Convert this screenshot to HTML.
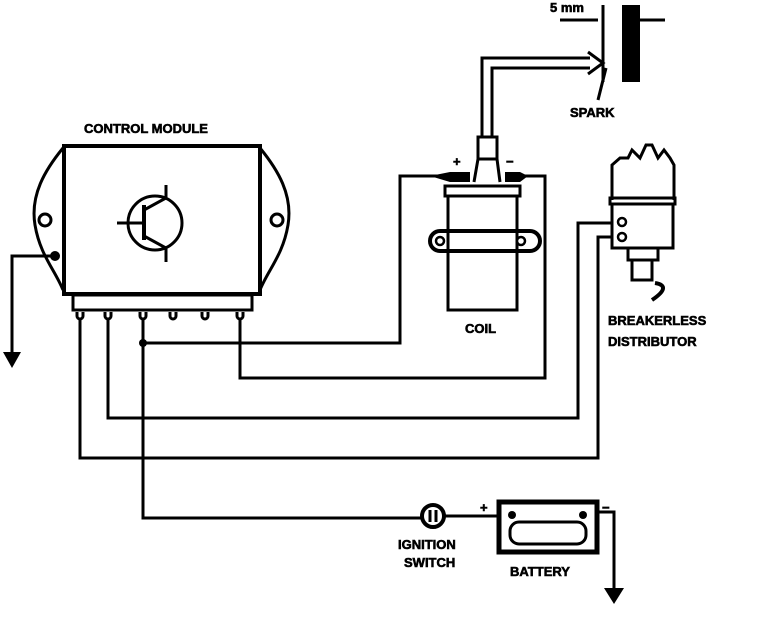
<!DOCTYPE html>
<html><head><style>
body{margin:0;background:#fff}
svg{display:block}
text{font-family:"Liberation Sans",sans-serif;font-weight:bold;font-size:13px;fill:#000;stroke:#000;stroke-width:0.6}
</style></head><body>
<svg width="768" height="630" viewBox="0 0 768 630" xmlns="http://www.w3.org/2000/svg">
<g fill="none" stroke="#000" stroke-width="3">
<path d="M63,148 C45,170 30,195 35,225 C40,255 55,270 63,290" />
<path d="M260,148 C278,170 293,195 288,225 C283,255 268,270 260,290" />
<rect x="64" y="146" width="196" height="148" stroke-width="4"/>
<rect x="73" y="295" width="179" height="15"/>
<circle cx="45" cy="220" r="6"/>
<circle cx="277" cy="220" r="6"/>
<circle cx="155" cy="223" r="27"/>
<line x1="117" y1="223" x2="144" y2="223"/>
<line x1="144" y1="205" x2="144" y2="240" stroke-width="4"/>
<path d="M144,210 L166,198 L166,185 M144,236 L166,248 L166,262"/>
<g stroke-width="3">
<path d="M77,312 v4 a3,3 0 0 0 6,0 v-4"/><path d="M105,312 v4 a3,3 0 0 0 6,0 v-4"/><path d="M140,312 v4 a3,3 0 0 0 6,0 v-4"/>
<path d="M170,312 v4 a3,3 0 0 0 6,0 v-4"/><path d="M202,312 v4 a3,3 0 0 0 6,0 v-4"/><path d="M237,312 v4 a3,3 0 0 0 6,0 v-4"/>
</g>
<polyline points="55,256 12,256 12,352"/>
<polyline points="240,320 240,378 545,378 545,176 520,176"/>
<polyline points="108,320 108,418 578,418 578,223 612,223"/>
<polyline points="80,320 80,458 598,458 598,237 612,237"/>
<polyline points="143,320 143,518 421,518"/>
<polyline points="143,343 400,343 400,176 440,176"/>
<line x1="445" y1="516" x2="497" y2="516"/>
<polyline points="598,512 614,512 614,588"/>
<rect x="448" y="196" width="69" height="114"/>
<rect x="445" y="186" width="75" height="10"/>
<path d="M440,231 h90 a10,10 0 0 1 0,20 h-90 a10,10 0 0 1 0,-20z" stroke-width="4"/>
<rect x="478" y="137" width="19" height="22"/>
<path d="M478,159 L474,182 M497,159 L500,182"/>
<path d="M440,176 h30 M505,176 h18"/>
<polyline points="482,137 482,58 590,58"/>
<polyline points="492,137 492,68 590,68"/>
<path d="M588,52 L603,63 L588,74" />
<line x1="603" y1="5" x2="603" y2="82"/>
<line x1="560" y1="20" x2="598" y2="20"/>
<line x1="640" y1="20" x2="665" y2="20"/>
<path d="M606,68 L598,100"/>
<path d="M612,200 L612,165 L620,158 L628,158 L632,150 L640,158 L646,145 L652,145 L658,158 L664,150 L670,158 L674,165 L674,200"/>
<rect x="610" y="198" width="65" height="6"/>
<path d="M612,204 L612,248 L673,248 L673,204"/>
<rect x="628" y="248" width="30" height="12"/>
<path d="M632,260 v20 h20 v-20"/>
<path d="M655,283 C668,285 664,292 652,300" stroke-width="4"/>
<circle cx="433" cy="516" r="11" stroke-width="4"/>
<line x1="430" y1="510" x2="430" y2="522"/>
<line x1="436" y1="510" x2="436" y2="522"/>
<rect x="499" y="502" width="98" height="50" stroke-width="5"/>
<rect x="510" y="522" width="76" height="22" rx="9"/>
</g>
<rect x="622" y="5" width="18" height="77" fill="#000"/>
<polygon points="3,352 21,352 12,368" fill="#000"/>
<polygon points="604,588 624,588 614,604" fill="#000"/>
<circle cx="143" cy="343" r="4"/>
<circle cx="55" cy="256" r="5"/>
<circle cx="512" cy="515" r="4"/>
<circle cx="583" cy="515" r="4"/>
<circle cx="622" cy="222" r="4" fill="#fff" stroke="#000" stroke-width="2.5"/>
<circle cx="622" cy="237" r="4" fill="#fff" stroke="#000" stroke-width="2.5"/>
<circle cx="440" cy="241" r="4" fill="#fff" stroke="#000" stroke-width="2.5"/>
<circle cx="521" cy="241" r="4" fill="#fff" stroke="#000" stroke-width="2.5"/>
<path d="M430,176 L450,172 L470,172 L470,182 L450,182 Z M505,172 L520,172 L528,176 L520,182 L505,182 Z" fill="#000"/>
<text x="84" y="133">CONTROL MODULE</text>
<text x="465" y="333">COIL</text>
<text x="608" y="325">BREAKERLESS</text>
<text x="608" y="346">DISTRIBUTOR</text>
<text x="570" y="117">SPARK</text>
<text x="550" y="12" font-size="11">5 mm</text>
<text x="453" y="166">+</text>
<text x="506" y="166">−</text>
<text x="398" y="549">IGNITION</text>
<text x="404" y="567">SWITCH</text>
<text x="510" y="576">BATTERY</text>
<text x="480" y="512">+</text>
<text x="602" y="512">−</text>
</svg>
</body></html>
